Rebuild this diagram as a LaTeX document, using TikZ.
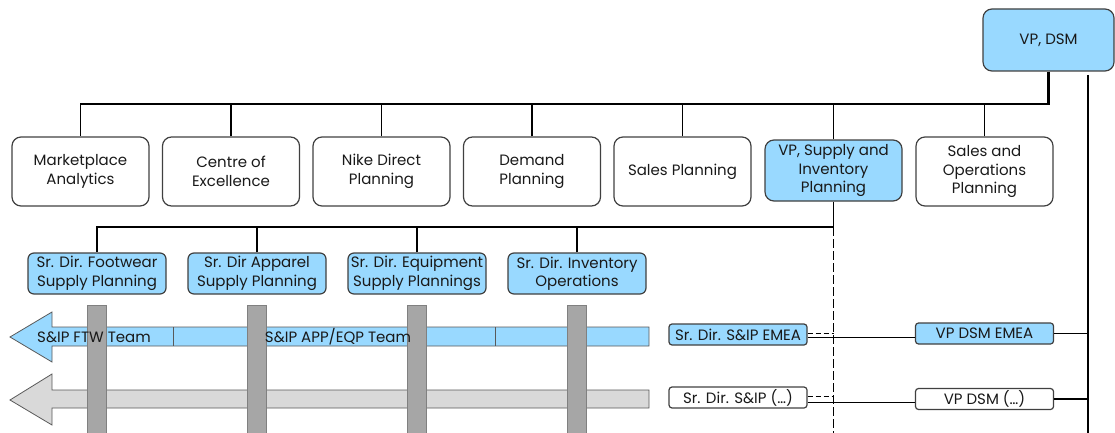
\documentclass[tikz,border=0pt]{standalone}
\usepackage{fontspec}
\setmainfont{Poppins}
\usetikzlibrary{calc}
\definecolor{skyb}{RGB}{153,217,255}
\definecolor{bargray}{RGB}{166,166,166}
\definecolor{arrgray}{RGB}{217,217,217}
\tikzset{
  txt/.style={font=\fontsize{15}{18.5}\selectfont,text=black!90},
  unit/.style={txt,draw=black!75,rounded corners=9pt,minimum width=137pt,minimum height=69pt,align=center,inner sep=1pt},
  head/.style={unit,fill=skyb},
  dirbox/.style={txt,draw=black!75,fill=skyb,rounded corners=6pt,minimum width=138pt,minimum height=41pt,align=center,inner sep=1pt},
  regbox/.style={txt,draw=black!75,rounded corners=3pt,minimum width=138pt,minimum height=21pt,inner sep=0pt},
  bar/.style={draw=black!50,fill=bargray,line width=.8pt},
  band/.style={draw=black!65,line width=.8pt},
  dotted link/.style={dash pattern=on 5pt off 3pt}
}
\begin{document}
\begin{tikzpicture}[x=1pt,y=-1pt,line width=1.2pt]
\useasboundingbox (0,0) rectangle (1115,433);
\node[head,minimum width=131pt,minimum height=62pt](vpdsm)at(1048.5,40){VP, DSM};
\node[unit](mkt)at(80.5,171.5){Marketplace\\Analytics};
\node[unit](coe)at(231,171.5){Centre of\\Excellence};
\node[unit](ndp)at(381.5,171.5){Nike Direct\\Planning};
\node[unit](dmd)at(532,171.5){Demand\\Planning};
\node[unit](sls)at(682.5,171.5){Sales Planning};
\node[head,minimum height=61pt](vpsip)at(833.5,170.5){VP, Supply and\\Inventory\\Planning};
\node[unit](sop)at(984.5,171.5){Sales and\\Operations\\Planning};
\coordinate(bus)at(0,104);
\draw[line width=2.4pt] (vpdsm.south) |- (bus -| vpsip.north);
\draw (vpsip.north |- bus) -| (mkt.north);
\foreach \n in {coe,ndp,dmd,sls,vpsip,sop} \draw (\n.north) -- (\n.north |- bus);
\coordinate(rt)at(1088,75);
\draw (rt) -- (1088,433);
% sub units
\node[dirbox](fw)at(97,273.5){Sr. Dir. Footwear\\Supply Planning};
\node[dirbox](app)at(257,273.5){Sr. Dir Apparel\\Supply Planning};
\node[dirbox](eqp)at(417,273.5){Sr. Dir. Equipment\\Supply Plannings};
\node[dirbox](inv)at(577,273.5){Sr. Dir. Inventory\\Operations};
\coordinate(sub)at(0,227);
\draw (vpsip.south) |- (sub -| fw.north) -- (fw.north);
\foreach \n in {app,eqp,inv} \draw (\n.north) -- (\n.north |- sub);
\draw[dash pattern=on 9pt off 3pt] (vpsip.south |- sub) -- (833.5,433);
% team arrows
\draw[band,fill=skyb] (10,337)--(52,312)--(52,327)--(649,327)--(649,346)--(52,346)--(52,362)--cycle;
\draw[band,fill=arrgray] (10,400)--(52,374)--(52,390)--(649,390)--(649,408)--(52,408)--(52,425)--cycle;
\foreach \n in {fw,app,eqp,inv} \draw[bar] ($(\n.south)+(-9.5,11)$) rectangle ($(\n.south)+(9.5,145)$);
\draw[band] (173,327)--(173,346) (495,327)--(495,346);
\node[txt](ftw)at(94,337){S\&IP FTW Team};
\node[txt](appeqp)at(338,337){S\&IP APP/EQP Team};
% regions
\node[regbox,fill=skyb](sremea)at(738,334.5){Sr. Dir. S\&IP EMEA};
\node[regbox,fill=skyb](vpemea)at(984.5,333.5){VP DSM EMEA};
\node[regbox](srx)at(738,397.5){Sr. Dir. S\&IP (…)};
\node[regbox](vpx)at(984.5,399){VP DSM (…)};
\draw ([yshift=-3pt]sremea.east) -- ([yshift=-3pt]sremea.east -| vpemea.west);
\draw[dotted link] ([yshift=1pt]sremea.east) -- ([yshift=1pt]sremea.east -| vpsip.south);
\draw ([yshift=-5pt]srx.east) -- ([yshift=-5pt]srx.east -| vpx.west);
\draw[dotted link] ([yshift=1pt]srx.east) -- ([yshift=1pt]srx.east -| vpsip.south);
\draw (vpemea.east) -- (vpemea.east -| rt);
\draw (vpx.east) -- (vpx.east -| rt);
\end{tikzpicture}
\end{document}
